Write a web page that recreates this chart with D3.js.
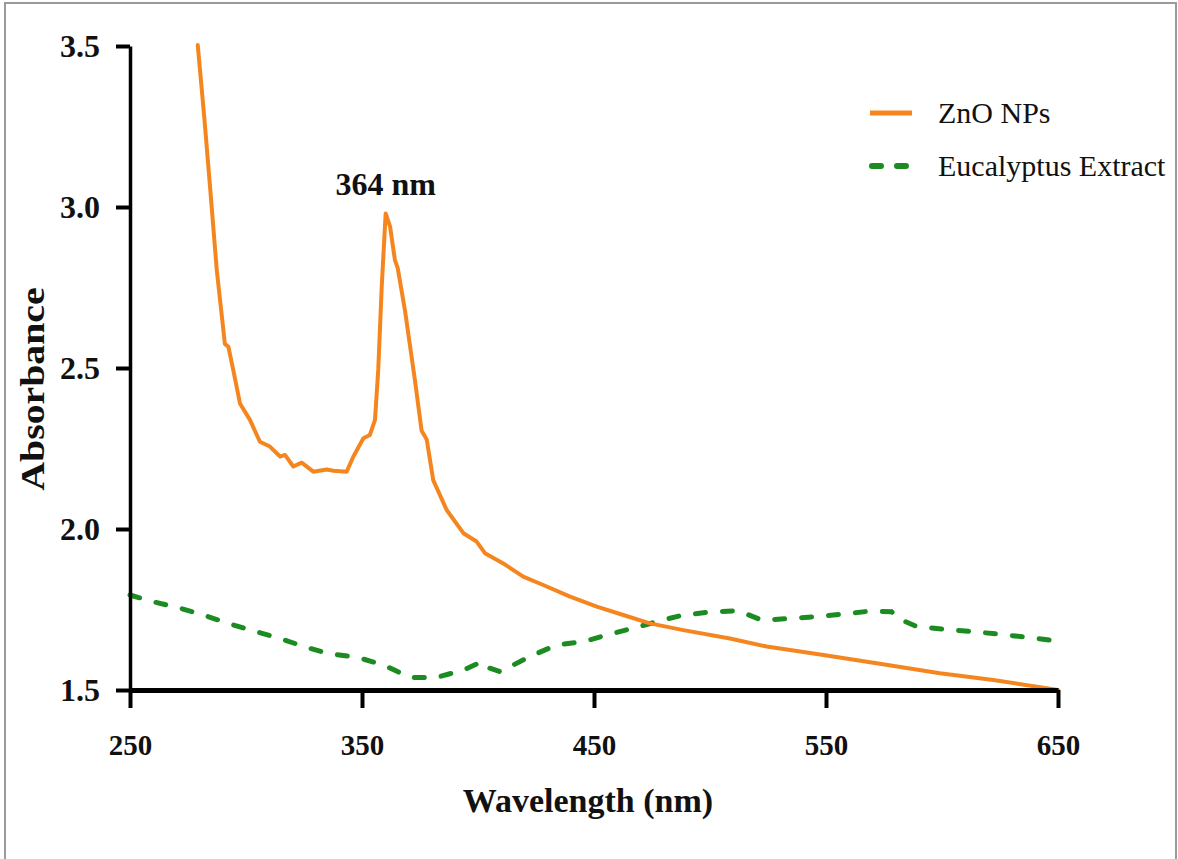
<!DOCTYPE html>
<html>
<head>
<meta charset="utf-8">
<script src="https://cdn.jsdelivr.net/npm/d3@7/dist/d3.min.js"></script>
<style>
  html, body { margin: 0; padding: 0; background: #fff; }
  svg { display: block; }
  text { font-family: "Liberation Serif", "Times New Roman", serif; fill: #111; }
</style>
</head>
<body>
<svg id="chart" width="1178" height="859"></svg>
<script>
// ---- data ----
const xTicks = [250, 350, 450, 550, 650];
const yTicks = [1.5, 2.0, 2.5, 3.0, 3.5];
const seriesNames = ["ZnO NPs", "Eucalyptus Extract"];
const peakLabel = "364 nm";
const peakPoint = [360.2, 2.98];

const znoWavelength = [279.2, 282.0, 284.5, 287.4, 290.9, 292.4, 294.5, 297.4, 301.7, 306.0, 310.3, 314.7, 316.8, 320.4, 324.0, 329.0, 334.8, 337.7, 343.4, 346.3, 350.6, 353.4, 355.6, 357.0, 358.5, 360.2, 362.1, 364.2, 365.4, 368.5, 372.8, 375.7, 377.9, 380.7, 386.5, 393.7, 399.4, 403.0, 410.9, 419.5, 428.1, 439.7, 451.2, 462.6, 474.1, 488.5, 508.6, 524.4, 548.9, 571.8, 599.1, 622.1, 650.0];
const znoAbsorbance = [3.503, 3.280, 3.063, 2.804, 2.575, 2.566, 2.494, 2.390, 2.339, 2.271, 2.256, 2.225, 2.230, 2.194, 2.206, 2.178, 2.185, 2.181, 2.178, 2.225, 2.282, 2.292, 2.339, 2.494, 2.752, 2.980, 2.939, 2.835, 2.810, 2.680, 2.463, 2.305, 2.278, 2.152, 2.059, 1.987, 1.961, 1.925, 1.893, 1.852, 1.826, 1.790, 1.759, 1.733, 1.707, 1.686, 1.660, 1.635, 1.609, 1.583, 1.552, 1.531, 1.500];

const eucWavelength = [250.0, 260.0, 271.6, 281.6, 293.1, 303.1, 314.7, 326.2, 336.2, 347.7, 359.2, 370.7, 382.2, 393.7, 401.6, 403.7, 409.5, 414.5, 422.4, 433.9, 445.4, 455.5, 466.9, 478.4, 488.5, 500.0, 511.5, 514.4, 522.3, 534.5, 546.0, 557.5, 569.0, 578.3, 581.2, 589.1, 600.6, 612.1, 623.6, 635.0, 650.0];
const eucAbsorbance = [1.795, 1.774, 1.754, 1.733, 1.705, 1.684, 1.660, 1.632, 1.612, 1.602, 1.578, 1.539, 1.539, 1.562, 1.588, 1.571, 1.557, 1.575, 1.604, 1.640, 1.650, 1.671, 1.692, 1.715, 1.733, 1.742, 1.746, 1.740, 1.717, 1.722, 1.728, 1.736, 1.745, 1.743, 1.722, 1.697, 1.689, 1.682, 1.674, 1.665, 1.652];

// ---- layout ----
const svg = d3.select("#chart");
const x = d3.scaleLinear().domain([250, 650]).range([130, 1058]);
const y = d3.scaleLinear().domain([1.5, 3.5]).range([690, 46]);
const orange = "#f5861f";
const green = "#1c8c22";

// frame
svg.append("rect").attr("x", 5).attr("y", 3).attr("width", 1171).attr("height", 880)
  .attr("fill", "none").attr("stroke", "#9a9a9a").attr("stroke-width", 2);

// lines
const line = d3.line().x(d => x(d[0])).y(d => y(d[1]));
const eucData = eucWavelength.map((w, i) => [w, eucAbsorbance[i]]);
const znoData = znoWavelength.map((w, i) => [w, znoAbsorbance[i]]);

svg.append("path").datum(eucData).attr("d", line)
  .attr("fill", "none").attr("stroke", green).attr("stroke-width", 5)
  .attr("stroke-dasharray", "10,17").attr("stroke-linecap", "round");

svg.append("path").datum(znoData).attr("d", line)
  .attr("fill", "none").attr("stroke", orange).attr("stroke-width", 4)
  .attr("stroke-linejoin", "round").attr("stroke-linecap", "round");

// axes
const yAxis = svg.append("g").attr("transform", "translate(130,0)")
  .call(d3.axisLeft(y).tickValues(yTicks).tickFormat(d3.format(".1f")).tickSize(14).tickSizeOuter(0).tickPadding(16));
yAxis.select(".domain").attr("stroke", "#000").attr("stroke-width", 3.5);
yAxis.selectAll(".tick line").attr("stroke", "#000").attr("stroke-width", 4);
yAxis.selectAll(".tick text").attr("font-family", "Liberation Serif, serif").attr("font-weight", "bold")
  .attr("font-size", 32).attr("fill", "#111");

const xAxis = svg.append("g").attr("transform", "translate(0,690)")
  .call(d3.axisBottom(x).tickValues(xTicks).tickFormat(d3.format("d")).tickSize(18).tickSizeOuter(0).tickPadding(26));
xAxis.select(".domain").attr("stroke", "#000").attr("stroke-width", 5);
xAxis.selectAll(".tick line").attr("stroke", "#000").attr("stroke-width", 4);
xAxis.selectAll(".tick text").attr("font-family", "Liberation Serif, serif").attr("font-weight", "bold")
  .attr("font-size", 29).attr("fill", "#111");

// axis titles
svg.append("text").attr("x", 588).attr("y", 812).attr("text-anchor", "middle")
  .attr("font-weight", "bold").attr("font-size", 34).text("Wavelength (nm)");
svg.append("text").attr("transform", "translate(44,389) rotate(-90) scale(1.17,1)").attr("text-anchor", "middle")
  .attr("font-weight", "bold").attr("font-size", 34).text("Absorbance");

// peak label
svg.append("text").attr("x", x(peakPoint[0])).attr("y", 195).attr("text-anchor", "middle")
  .attr("font-weight", "bold").attr("font-size", 32).text(peakLabel);

// legend
const legend = svg.append("g");
const legendY = [113, 166];
legend.append("line").attr("x1", 870).attr("x2", 912).attr("y1", legendY[0]).attr("y2", legendY[0])
  .attr("stroke", orange).attr("stroke-width", 5);
legend.append("line").attr("x1", 872).attr("x2", 912).attr("y1", legendY[1]).attr("y2", legendY[1])
  .attr("stroke", green).attr("stroke-width", 6).attr("stroke-dasharray", "9,16").attr("stroke-linecap", "round");
seriesNames.forEach((name, i) => {
  legend.append("text").attr("x", 938).attr("y", legendY[i] + 10).attr("font-size", 30).text(name);
});
</script>
</body>
</html>
